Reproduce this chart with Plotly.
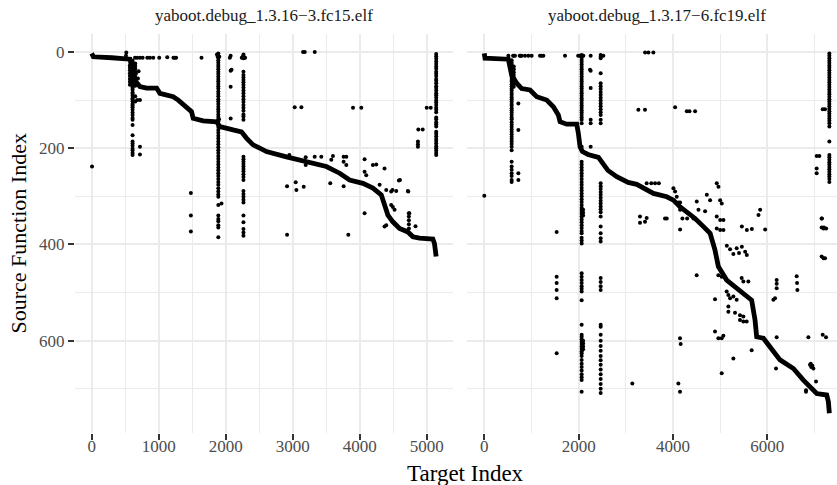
import plotly.graph_objects as go

# ---------------- data: left facet (yaboot.debug_1.3.16-3.fc15.elf) ----------------
facet_titles = ["yaboot.debug_1.3.16\u22123.fc15.elf", "yaboot.debug_1.3.17\u22126.fc19.elf"]

A_curve_x = [0, 25, 300, 571, 596, 621, 660, 720, 820, 969, 1018, 1217, 1292, 1416, 1490, 1515, 1664, 1863, 1913, 2111,
             2236, 2310, 2409, 2509, 2608, 2906, 3104, 3502, 3701, 3850, 4048, 4197, 4322, 4371, 4421, 4495, 4595, 4719, 4794, 4893,
             5092, 5116, 5141]
A_curve_y = [3, 10, 12, 15, 30, 51, 62, 72, 75, 75, 86, 93, 100, 114, 124, 138, 143, 145, 155, 162,
             166, 179, 193, 200, 207, 218, 224, 238, 252, 266, 273, 283, 297, 321, 339, 353, 367, 374, 384, 387,
             389, 398, 425]

A_col_x = [610, 1890, 2265, 5142, 650, 570]
A_col_y = [
    [18, 22, 27, 29, 33, 38, 41, 44, 49, 52, 56, 61, 63, 67, 72, 75, 79, 84, 87, 91, 96, 99, 103, 108, 111, 115, 120, 126,
     131, 137, 141, 152, 173, 186, 190, 195, 201, 205, 210, 214],
    [3, 8, 12, 17, 22, 27, 31, 36, 41, 46, 51, 56, 61, 66, 71, 76, 82, 87, 92, 98, 103, 108, 114, 119, 124, 130, 135, 140,
     144, 150, 156, 162, 168, 174, 180, 186, 192, 198, 204, 210, 216, 222, 228, 234, 240, 246, 252, 258, 264, 270, 276,
     283, 290, 296, 301, 318, 340, 347, 352, 360, 365, 385],
    [5, 9, 13, 41, 48, 53, 58, 63, 68, 74, 80, 86, 92, 98, 104, 110, 116, 122, 130, 134, 141, 218, 223, 228, 233, 238,
     243, 248, 254, 260, 266, 289, 295, 301, 307, 313, 340, 354, 368, 375, 382],
    [4, 9, 14, 20, 25, 30, 35, 41, 45, 50, 56, 60, 65, 71, 75, 80, 86, 90, 95, 101, 105, 110, 116, 120, 125, 136, 140,
     146, 150, 155, 166, 170, 175, 181, 185, 190, 196, 200, 205, 210, 214],
    [24, 29, 35, 41, 46, 52, 58, 64, 70, 92, 103],
    [28, 33, 38, 44, 50, 56, 62, 68],
]

A_pts_x = [512, 517, 646, 680, 720, 760, 830, 870, 919, 1008, 1128, 1220, 1242, 1260, 1639, 1870, 1905, 2062, 2240, 2290,
           3155, 3180, 3329, 3030, 3130, 3900, 4024, 5000, 5060, 4875, 4940, 4869, 4869, 4869, 5, 1480, 1480, 1480,
           680, 720, 720, 720, 2074, 2074, 2074, 2074, 2087, 1937, 640, 660, 690, 650, 700,
           2916, 2916, 3045, 3055, 3164, 3194, 3194, 3328, 3427, 3561, 3576, 3601, 3760, 3800, 3760, 3800, 3760, 3830,
           4073, 4073, 4098, 4073, 4197, 4247, 4297, 4371, 4396, 4470, 4490, 4545, 4585, 4719, 4470, 4495, 4520, 4371,
           4396, 4734, 4734, 4734, 4734, 4734, 4833, 4601, 4725, 4740, 2950, 1880, 1900, 2255, 2275]
A_pts_y = [8, 1, 12, 12, 12, 12, 12, 12, 12, 12, 11, 12, 12, 12, 12, 5, 10, 12, 12, 12,
           0, 0, 0, 115, 115, 116, 116, 116, 116, 161, 161, 186, 192, 197, 238, 293, 340, 373,
           100, 100, 197, 213, 8, 39, 72, 138, 37, 315, 35, 45, 55, 60, 40,
           279, 380, 271, 287, 280, 219, 235, 218, 218, 273, 224, 216, 218, 218, 228, 235, 279, 380,
           223, 249, 256, 335, 235, 234, 276, 242, 287, 290, 287, 289, 267, 289, 318, 322, 328, 363,
           360, 335, 342, 350, 358, 367, 362, 266, 290, 335, 214, 10, 140, 10, 12]

# ---------------- data: right facet (yaboot.debug_1.3.17-6.fc19.elf) ----------------
B_curve_x = [0, 15, 510, 545, 580, 687, 793, 969, 1111, 1323, 1464, 1570, 1606, 1747, 1959, 1994, 2030, 2080, 2200, 2420,
             2525, 2620, 2808, 3050, 3232, 3408, 3585, 3868, 4009, 4151, 4327, 4469, 4646, 4787, 4891, 4962, 5138, 5421, 5668, 5739,
             5774, 5916, 6128, 6269, 6552, 6764, 7047, 7259, 7294, 7315]
B_curve_y = [3, 13, 15, 30, 48, 65, 76, 79, 93, 100, 114, 131, 145, 150, 150, 169, 197, 207, 213, 219,
             235, 246, 259, 271, 275, 285, 294, 301, 308, 322, 335, 346, 363, 377, 412, 446, 474, 498, 516, 557,
             592, 595, 620, 640, 658, 682, 710, 713, 727, 751]

B_col_x = [580, 2064, 2255, 2467, 7315, 722, 1534, 625, 2095]
B_col_y = [
    [17, 22, 26, 31, 35, 40, 44, 49, 53, 58, 62, 67, 71, 76, 80, 85, 89, 94, 98, 103, 108, 112, 117, 121, 126, 131, 136,
     140, 146, 151, 156, 161, 166, 171, 176, 181, 186, 191, 197, 204, 228, 238, 245, 252, 258, 266, 270],
    [6, 11, 16, 21, 26, 31, 36, 41, 46, 51, 56, 61, 66, 71, 76, 81, 86, 91, 96, 101, 106, 111, 116, 121, 126, 131, 136,
     141, 148, 197, 228, 234, 240, 246, 252, 258, 264, 270, 276, 282, 288, 294, 300, 306, 312, 318, 324, 328, 332, 336,
     342, 348, 354, 360, 366, 372, 377, 386, 392, 398, 460, 467, 474, 480, 487, 492, 498, 516, 567, 588, 592, 597, 602,
     607, 612, 617, 622, 626, 632, 640, 648, 655, 662, 670, 676, 682, 706],
    [8, 39, 75, 141, 148, 197],
    [6, 10, 13, 44, 65, 71, 77, 83, 89, 95, 101, 107, 113, 119, 125, 131, 141, 148, 273, 279, 285, 291, 297, 303, 309,
     315, 321, 327, 333, 342, 363, 377, 387, 394, 470, 478, 487, 495, 567, 571, 588, 600, 611, 621, 632, 641, 650, 660,
     670, 680, 690, 700, 709],
    [3, 8, 13, 18, 23, 28, 33, 38, 43, 48, 53, 58, 63, 68, 73, 78, 83, 88, 93, 98, 103, 108, 113, 118, 123, 128, 133, 138,
     143, 148, 155, 186, 214, 219, 224, 229, 234, 239, 244, 249, 254, 259, 264, 270],
    [107, 162, 252, 266],
    [374, 467, 480, 495, 512, 626],
    [30, 36, 42, 48, 54, 60, 66, 72],
    [328, 334, 340, 600, 606, 612, 618],
]

B_pts_x = [510, 610, 630, 651, 750, 770, 792, 863, 934, 1004, 1181, 1215, 1252, 1711, 1990, 2029, 2100, 2241, 2488, 2524,
           3408, 3479, 3584, 3266, 3407, 4045, 4293, 4350, 4469, 0, 3301, 3301, 3407, 3442, 3442, 3540, 3620, 3700,
           3831, 3868, 4009, 4045, 4080, 4116, 4151, 4151, 4151, 4200, 4300, 4434, 4504, 4540, 4681, 4717, 4787, 4928,
           4964, 5000, 5034, 4928, 5000, 5070, 4928, 5000, 5070, 5141, 5210, 5280, 5350, 5400, 5460, 5530, 5565, 5848,
           5813, 5460, 5566, 5672, 5954, 7156, 7192, 7247, 7174, 7223, 7046, 7103, 7046, 7046, 7152, 7152, 7200,
           7192, 7152, 7223, 7174, 7244, 4502, 4891, 4962, 5033, 5138, 5174, 5210, 5280, 5350, 5174, 5174, 5315, 5421,
           5421, 5492, 5492, 5562, 5456, 5492, 5598, 4891, 4962, 5033, 5068, 5280, 5033, 5668, 6198, 6198, 6198, 6128,
           6163, 6198, 6184, 6622, 6637, 6630, 6870, 6905, 6930, 6955, 6976, 6920, 7032, 6820, 6820, 4149, 4163, 4114,
           4149, 3138]
B_pts_y = [8, 8, 8, 8, 8, 8, 8, 8, 8, 8, 8, 8, 8, 8, 8, 8, 8, 37, 8, 8,
           1, 1, 1, 120, 120, 115, 123, 123, 123, 299, 342, 355, 353, 273, 345, 273, 273, 273,
           346, 346, 283, 290, 301, 313, 313, 328, 369, 346, 346, 346, 311, 328, 331, 297, 308, 273,
           280, 308, 315, 342, 349, 349, 367, 370, 370, 403, 410, 420, 408, 418, 405, 415, 422, 328,
           339, 363, 370, 368, 369, 346, 367, 367, 119, 119, 216, 216, 242, 252, 346, 365, 365,
           429, 425, 429, 588, 593, 464, 514, 464, 467, 498, 505, 512, 508, 515, 529, 540, 542, 547,
           557, 550, 560, 560, 470, 477, 477, 581, 595, 595, 590, 637, 668, 620, 474, 482, 491, 515,
           512, 593, 658, 466, 495, 480, 593, 650, 655, 652, 658, 648, 685, 703, 706, 595, 607, 689,
           706, 689]


def expand(cols_x, cols_y, px, py):
    xs, ys = [], []
    for cx, cy in zip(cols_x, cols_y):
        xs += [cx] * len(cy)
        ys += list(cy)
    return xs + list(px), ys + list(py)


Ax, Ay = expand(A_col_x, A_col_y, A_pts_x, A_pts_y)
Bx, By = expand(B_col_x, B_col_y, B_pts_x, B_pts_y)

fig = go.Figure()
mk = dict(color="black", size=4)
fig.add_trace(go.Scatter(x=Ax, y=Ay, mode="markers", marker=mk, xaxis="x", yaxis="y", showlegend=False))
fig.add_trace(go.Scatter(x=A_curve_x, y=A_curve_y, mode="lines", line=dict(color="black", width=4.8),
                         xaxis="x", yaxis="y", showlegend=False))
fig.add_trace(go.Scatter(x=Bx, y=By, mode="markers", marker=mk, xaxis="x2", yaxis="y2", showlegend=False))
fig.add_trace(go.Scatter(x=B_curve_x, y=B_curve_y, mode="lines", line=dict(color="black", width=4.8),
                         xaxis="x2", yaxis="y2", showlegend=False))

FONT = "Liberation Serif"
tickfont = dict(family=FONT, size=17, color="#4D4D4D")
grid = dict(showgrid=True, gridcolor="#EBEBEB", gridwidth=1.8, zeroline=False, showline=False,
            ticks="outside", ticklen=6, tickwidth=1.6, tickcolor="#333333", tickfont=tickfont)

# the page body margin is removed below, so figure px = target px
W, H = 837, 485
L, T, B, R = 75, 34, H - 433, 0
pw = W - L - R
ph = H - T - B


def px_x(p):
    return (p - L) / pw


def px_y(p):
    return (H - B - p) / ph


minor_grid = dict(showgrid=True, gridcolor="#EBEBEB", gridwidth=0.9, ticks="")

fig.update_layout(
    width=W, height=H,
    margin=dict(l=L, r=R, t=T, b=B),
    plot_bgcolor="white", paper_bgcolor="white",
    xaxis=dict(domain=[0, px_x(453.3)], range=[-249, 5397], tickvals=[0, 1000, 2000, 3000, 4000, 5000],
               ticklabelstandoff=-8,
               minor=dict(tickvals=[500, 1500, 2500, 3500, 4500], **minor_grid), **grid),
    xaxis2=dict(domain=[px_x(466.7), 1], range=[-373, 7477], tickvals=[0, 2000, 4000, 6000],
                ticklabelstandoff=-8,
                minor=dict(tickvals=[1000, 3000, 5000, 7000], **minor_grid), **grid),
    yaxis=dict(domain=[0, 1], range=[792, -37.4], tickvals=[0, 200, 400, 600],
               minor=dict(tickvals=[100, 300, 500, 700], **minor_grid), **grid),
    yaxis2=dict(domain=[0, 1], range=[792, -37.4], anchor="x2", tickvals=[0, 200, 400, 600],
                minor=dict(tickvals=[100, 300, 500, 700], **minor_grid),
                showgrid=True, gridcolor="#EBEBEB", gridwidth=1.8, zeroline=False, showline=False,
                showticklabels=False, ticks=""),
    annotations=[
        dict(text=facet_titles[0], x=px_x(263.9), y=px_y(16), xref="paper", yref="paper",
             showarrow=False, xanchor="center", yanchor="middle", font=dict(family=FONT, size=17, color="#1A1A1A")),
        dict(text=facet_titles[1], x=px_x(656.8), y=px_y(16), xref="paper", yref="paper",
             showarrow=False, xanchor="center", yanchor="middle", font=dict(family=FONT, size=17, color="#1A1A1A")),
        dict(text="Target Index", x=px_x(465), y=px_y(473), xref="paper", yref="paper",
             showarrow=False, xanchor="center", yanchor="middle", font=dict(family=FONT, size=23, color="black")),
        dict(text="Source Function Index", x=px_x(18), y=px_y(233.5), xref="paper", yref="paper",
             showarrow=False, xanchor="center", yanchor="middle", textangle=-90,
             font=dict(family=FONT, size=22, color="black")),
    ],
)

fig.write_html("out.html", config={"displayModeBar": False},
               post_script="document.body.style.margin='0px';")
